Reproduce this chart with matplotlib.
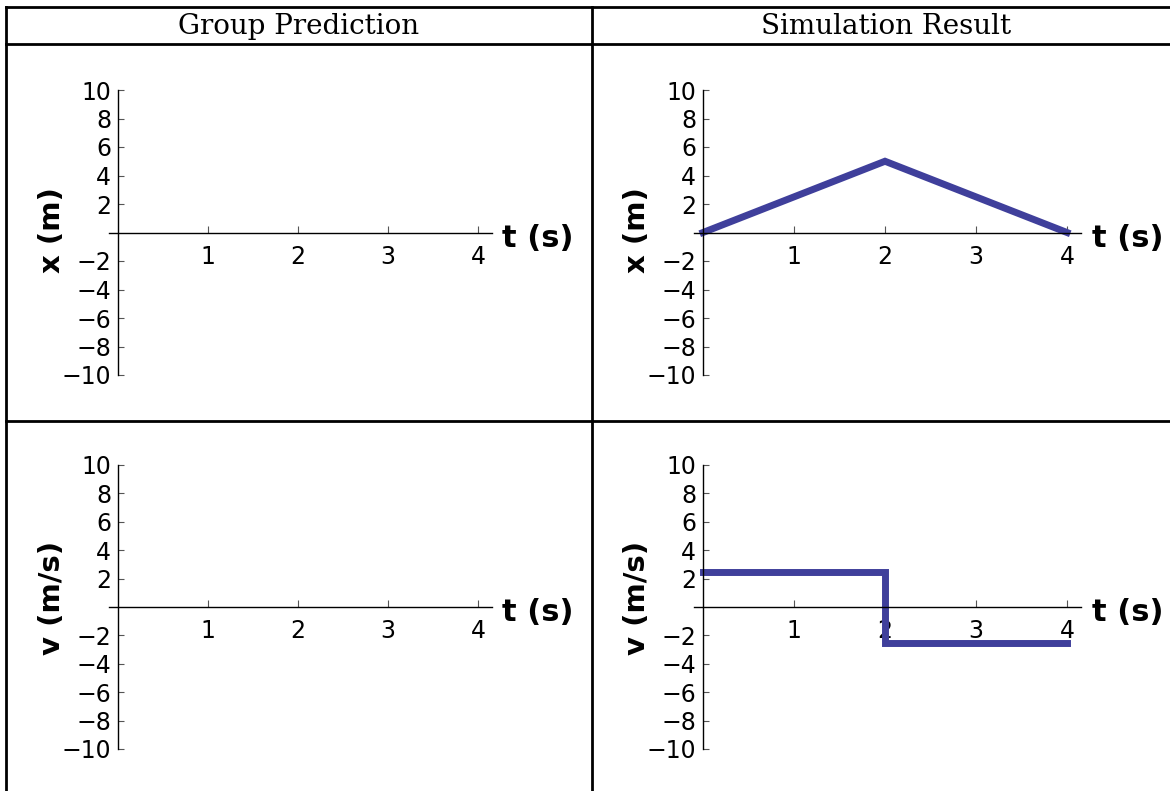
import matplotlib
matplotlib.use("Agg")
import matplotlib.pyplot as plt
from matplotlib.lines import Line2D

# data
t_pos = [0, 2, 4]
x_pos = [0, 5, 0]
t_vel = [0, 2, 2, 4]
v_vel = [2.5, 2.5, -2.5, -2.5]

x_ticks = [1, 2, 3, 4]
y_ticks = [-10, -8, -6, -4, -2, 2, 4, 6, 8, 10]
headers = ["Group Prediction", "Simulation Result"]

W, H = 1170, 791
fig = plt.figure(figsize=(W / 100, H / 100), dpi=100)

LINE_COLOR = "#3f3f9b"
XLIM = (-0.1, 4.15)
YLIM = (-10.6, 10.6)


def px_axes(x0, y0, xu, yu):
    """Create axes whose data origin sits at pixel (x0, y0)."""
    left = x0 + XLIM[0] * xu
    width = (XLIM[1] - XLIM[0]) * xu
    top = y0 - YLIM[1] * yu
    height = (YLIM[1] - YLIM[0]) * yu
    ax = fig.add_axes([left / W, 1 - (top + height) / H, width / W, height / H])
    ax.set_xlim(*XLIM)
    ax.set_ylim(*YLIM)
    ax.patch.set_alpha(0)
    for s in ["top", "right"]:
        ax.spines[s].set_visible(False)
    ax.spines["left"].set_position(("data", 0))
    ax.spines["bottom"].set_position(("data", 0))
    ax.spines["left"].set_bounds(-10, 10)
    ax.spines["left"].set_linewidth(1.0)
    ax.spines["bottom"].set_linewidth(1.0)
    ax.set_xticks(x_ticks)
    ax.set_yticks(y_ticks)
    ax.tick_params(axis="y", direction="in", length=4, width=0.8,
                   color="#555555", labelsize=17, pad=5)
    ax.tick_params(axis="x", direction="in", length=5, width=0.8,
                   color="#555555", labelsize=17, pad=9)
    ax.text(XLIM[1] + 0.12, -0.4, "t (s)", fontsize=22, fontweight="bold",
            ha="left", va="center", clip_on=False)
    return ax


def label(xp, yp, text):
    fig.text(xp / W, 1 - yp / H, text, fontsize=21, fontweight="bold",
             rotation=90, ha="center", va="center")


ax_tl = px_axes(118, 232.5, 90, 14.25)
ax_tr = px_axes(703, 232.5, 91, 14.25)
ax_bl = px_axes(118, 607, 90, 14.2)
ax_br = px_axes(703, 607, 91, 14.2)

ax_tr.plot(t_pos, x_pos, color=LINE_COLOR, lw=5, solid_capstyle="projecting",
           solid_joinstyle="miter", clip_on=False)
ax_br.plot(t_vel, v_vel, color=LINE_COLOR, lw=5, solid_capstyle="projecting",
           solid_joinstyle="miter", clip_on=False)

label(52, 230, "x (m)")
label(637, 230, "x (m)")
label(52, 598, "v (m/s)")
label(637, 598, "v (m/s)")

# table grid
def hline(y, x0=6, x1=W):
    fig.add_artist(Line2D([x0 / W, x1 / W], [1 - y / H, 1 - y / H],
                          color="black", lw=2))


def vline(x, y0=6.5, y1=H):
    fig.add_artist(Line2D([x / W, x / W], [1 - y0 / H, 1 - y1 / H],
                          color="black", lw=2))


hline(6.5)
hline(44)
hline(421)
vline(6)
vline(592)

fig.text(299 / W, 1 - 26 / H, headers[0], fontsize=20, family="DejaVu Serif",
         ha="center", va="center")
fig.text(886 / W, 1 - 26 / H, headers[1], fontsize=20, family="DejaVu Serif",
         ha="center", va="center")

fig.savefig("out.png", dpi=100)
